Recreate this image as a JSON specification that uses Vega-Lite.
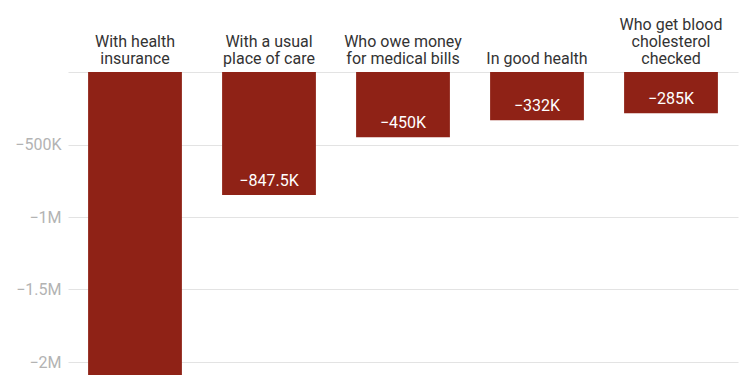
{
  "$schema": "https://vega.github.io/schema/vega-lite/v6.json",
  "autosize": {"type": "none"},
  "padding": {"left": 68, "top": 72, "right": 12, "bottom": 0},
  "width": 670,
  "height": 377,
  "background": "white",
  "data": {
    "values": [
      {"group": "With health|insurance", "value": -2500000},
      {"group": "With a usual|place of care", "value": -847500},
      {"group": "Who owe money|for medical bills", "value": -450000},
      {"group": "In good health", "value": -332000},
      {"group": "Who get blood|cholesterol|checked", "value": -285000}
    ]
  },
  "encoding": {
    "x": {
      "field": "group",
      "type": "nominal",
      "sort": null,
      "scale": {"paddingInner": 0.3, "paddingOuter": 0.15},
      "axis": {
        "orient": "top",
        "title": null,
        "domain": false,
        "ticks": false,
        "labelAngle": 0,
        "labelPadding": {
          "condition": [
            {"test": "indexof(datum.value, 'cholesterol') >= 0", "value": 40},
            {"test": "indexof(datum.value, '|') < 0", "value": 6}
          ],
          "value": 23
        },
        "labelFont": "Roboto",
        "labelFontSize": 16,
        "labelColor": "#333333",
        "labelLineHeight": 17,
        "labelExpr": "split(datum.value, '|')"
      }
    },
    "y": {
      "field": "value",
      "type": "quantitative",
      "scale": {"domain": [-2600000, 0], "nice": false},
      "axis": {
        "title": null,
        "domain": false,
        "ticks": false,
        "values": [0, -500000, -1000000, -1500000, -2000000],
        "labelPadding": 7,
        "labelFont": "Roboto",
        "labelFontSize": 16,
        "labelColor": "#b3b3b3",
        "gridColor": "#e3e3e3",
        "gridWidth": 1,
        "labelExpr": "datum.value == 0 ? '' : replace(format(datum.value, '~s'), 'k', 'K')"
      }
    }
  },
  "layer": [
    {"mark": {"type": "bar", "color": "#8f2216"}},
    {
      "mark": {
        "type": "text",
        "color": "white",
        "font": "Roboto",
        "fontSize": 16,
        "dy": -14,
        "baseline": "middle",
        "text": {"expr": "replace(format(datum.value, '~s'), 'k', 'K')"}
      }
    }
  ],
  "config": {"view": {"stroke": null}}
}
